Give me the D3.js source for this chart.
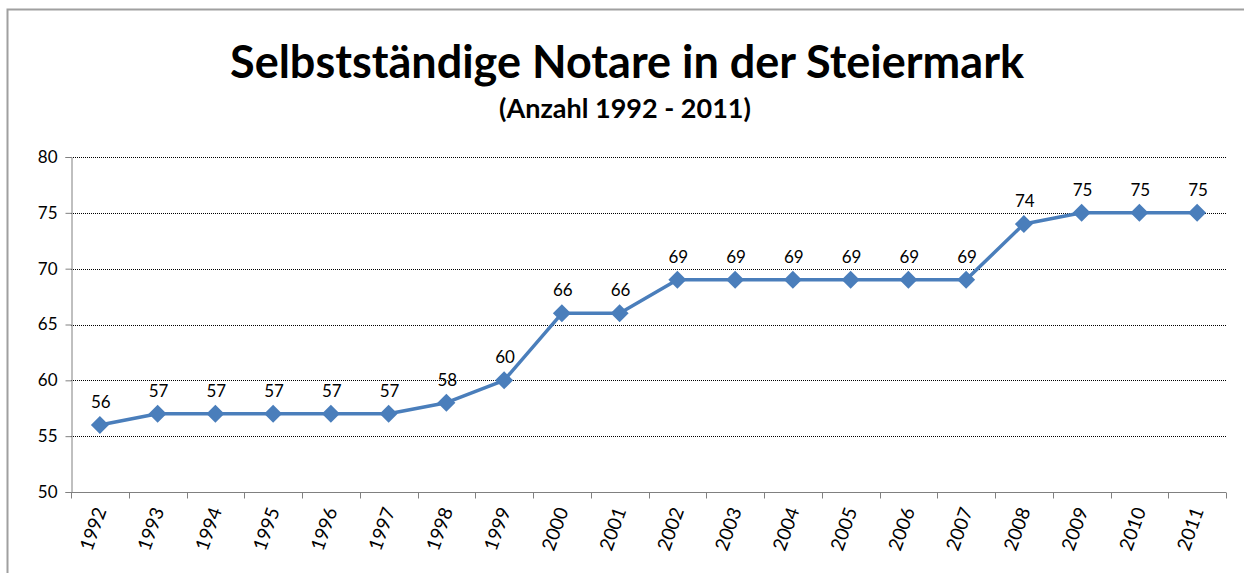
<!DOCTYPE html>
<html>
<head>
<meta charset="utf-8">
<script src="https://cdn.jsdelivr.net/npm/d3@7"></script>
<style>
body { margin: 0; background: #fff; }
text { font-family: Lato, "Open Sans", sans-serif; fill: #000; }
</style>
</head>
<body>
<script>
// data
var years = ["1992","1993","1994","1995","1996","1997","1998","1999","2000","2001",
             "2002","2003","2004","2005","2006","2007","2008","2009","2010","2011"];
var notare = [56,57,57,57,57,57,58,60,66,66,69,69,69,69,69,69,74,75,75,75];
var yTicks = [50,55,60,65,70,75,80];

var W = 1244, H = 573;
var plotLeft = 71, plotRight = 1226, plotTop = 157, plotBottom = 492;

var svg = d3.select("body").append("svg")
            .attr("width", W)
            .attr("height", H);

// outer frame
svg.append("rect")
   .attr("x", 7.5).attr("y", 9.5)
   .attr("width", W + 20).attr("height", H + 20)
   .attr("fill", "none")
   .attr("stroke", "#a0a0a0")
   .attr("stroke-width", 2);

svg.append("text")
   .attr("x", 627).attr("y", 78)
   .attr("text-anchor", "middle")
   .attr("font-size", 45).attr("font-weight", "bold")
   .text("Selbstständige Notare in der Steiermark");

svg.append("text")
   .attr("x", 625).attr("y", 118)
   .attr("text-anchor", "middle")
   .attr("font-size", 27).attr("font-weight", "bold")
   .text("(Anzahl 1992 - 2011)");

var x = d3.scaleBand().domain(years).range([plotLeft, plotRight]);
var y = d3.scaleLinear().domain([50, 80]).range([plotBottom, plotTop]);

// grid lines
svg.append("g").selectAll("line")
   .data(yTicks.filter(function(d){ return d > 50; }))
   .join("line")
   .attr("x1", plotLeft).attr("x2", plotRight)
   .attr("y1", function(d){ return Math.round(y(d)) + 0.5; })
   .attr("y2", function(d){ return Math.round(y(d)) + 0.5; })
   .attr("stroke", "#000")
   .attr("stroke-width", 1)
   .attr("stroke-dasharray", "1,1");

// y axis
var yAxis = svg.append("g")
   .attr("transform", "translate(" + (plotLeft + 0.5) + ",0)")
   .call(d3.axisLeft(y).tickValues(yTicks).tickSize(6).tickPadding(8));
yAxis.selectAll("text").attr("font-size", 17).style("font-family", "Lato, sans-serif");
yAxis.selectAll("line, path").attr("stroke", "#808080");

// x axis, ticks between categories
var xAxis = svg.append("g")
   .attr("transform", "translate(0," + (plotBottom + 0.5) + ")");
xAxis.append("line")
   .attr("x1", plotLeft).attr("x2", plotRight)
   .attr("stroke", "#808080");
xAxis.selectAll("line.tk")
   .data(years.concat(["end"]))
   .join("line")
   .attr("class", "tk")
   .attr("x1", function(d, i){ return Math.round(plotLeft + i * x.bandwidth()) + 0.5; })
   .attr("x2", function(d, i){ return Math.round(plotLeft + i * x.bandwidth()) + 0.5; })
   .attr("y1", 0).attr("y2", 6)
   .attr("stroke", "#808080");
xAxis.selectAll("text")
   .data(years)
   .join("text")
   .attr("transform", function(d){
       return "translate(" + (x(d) + x.bandwidth() / 2 + 7) + ",18) rotate(-70)";
   })
   .attr("text-anchor", "end")
   .attr("font-size", 19)
   .text(function(d){ return d; });

// line
var line = d3.line()
   .x(function(d, i){ return x(years[i]) + x.bandwidth() / 2; })
   .y(function(d){ return y(d); });

svg.append("path")
   .datum(notare)
   .attr("d", line)
   .attr("fill", "none")
   .attr("stroke", "#4a7ebb")
   .attr("stroke-width", 3.5)
   .attr("stroke-linejoin", "round");

svg.append("g").selectAll("path")
   .data(notare)
   .join("path")
   .attr("transform", function(d, i){
       return "translate(" + (x(years[i]) + x.bandwidth() / 2) + "," + y(d) + ")";
   })
   .attr("d", "M0,-9L9,0L0,9L-9,0Z")
   .attr("fill", "#4a7ebb");

// value labels
svg.append("g").selectAll("text")
   .data(notare)
   .join("text")
   .attr("x", function(d, i){ return x(years[i]) + x.bandwidth() / 2 + 1; })
   .attr("y", function(d){ return y(d) - 17; })
   .attr("text-anchor", "middle")
   .attr("font-size", 17)
   .text(function(d){ return d; });
</script>
</body>
</html>
